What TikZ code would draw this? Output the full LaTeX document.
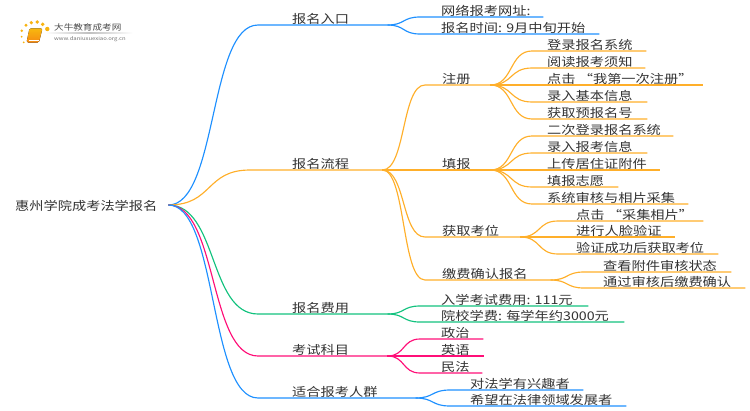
\documentclass[tikz,border=0pt]{standalone}
\usepackage{fontspec}
\usepackage{xcolor}
\usetikzlibrary{calc}
\setmainfont{Noto Sans CJK SC}[FakeStretch=1.185]

\definecolor{mapblue}{HTML}{1E90FF}
\definecolor{maporange}{HTML}{FFAF2A}
\definecolor{mapgreen}{HTML}{12C27E}
\definecolor{mappink}{HTML}{FF0F78}
\definecolor{maptext}{HTML}{333333}
\definecolor{logoorange}{HTML}{F59A14}

% colour, start point, node name, line start, text start, line end, line y, text
\newcommand{\branch}[8]{
\pgfmathsetmacro{\linelen}{#6-#4}
\pgfmathsetmacro{\textgap}{#5-#4}
\node [topic,anchor=south west] (#3) at (#4,#7) {\makebox[\linelen pt][l]{\hspace*{\textgap pt}#8}};
\draw [link,#1] let \p1=(#2), \p2=(#3.south west), \n1={0.55*(\x2-\x1)} in
  (\p1) .. controls +(\n1,0) and +(-\n1,0) .. (\p2) -- (#3.south east);
}

\begin{document}
\begin{tikzpicture}[x=1pt,y=-1pt,
  topic/.style={inner sep=0pt,text height=10pt,text depth=1.2pt,text=maptext,font=\fontsize{12}{14}\selectfont},
  link/.style={line width=1.15pt},
  logodot/.style={fill=logoorange!75!yellow,draw=none}]
\useasboundingbox (0,0) rectangle (750,410);

% logo
\foreach \dotx/\doty/\dotr in {21.7/30.7/1.4,26/25.3/1.6,31.3/22.7/1.8,37.3/22/1.9,42.7/24.3/1.9,47.3/29/2.2,21.7/36.7/1,23.7/42.3/1}
  \fill [logodot] (\dotx,\doty) circle (\dotr);
\shade [left color=white,right color=white,middle color=black!25] (45,32.8) rectangle (133,33.6);
\fill [rounded corners=1.5pt,top color=logoorange!70!yellow,bottom color=logoorange!90!red]
  (29.5,28.3) -- (42.5,28.3) -- (39,42.5) -- (26.5,42.5) -- cycle;
\draw [white,line width=0.5pt] (28.5,39.8) -- (39.3,39.8);
\node [inner sep=0pt,text=black!70,font=\fontsize{8.1}{10}\selectfont,anchor=west] (logotitle) at (54,27) {大牛教育成考网};
\node [inner sep=0pt,text=black!55,font=\fontsize{5}{6}\selectfont,anchor=west] (logourl) at (54,39) {www.daniuxuexiao.org.cn};

% centre
\node [topic,anchor=west,text height=12pt,text depth=2pt] (root) at (15,205) {\makebox[153pt][l]{惠州学院成考法学报名}};

% first level
\branch{mapblue}{root.east}{entry}{258}{292}{387}{25}{报名入口}
\branch{maporange}{root.east}{process}{250}{292}{382}{170}{报名流程}
\branch{mapgreen}{root.east}{fee}{258}{292}{387}{314}{报名费用}
\branch{mappink}{root.east}{subject}{258}{292}{387}{356}{考试科目}
\branch{mapblue}{root.east}{people}{258}{292}{415}{398}{适合报考人群}

% second level
\branch{mapblue}{entry.south east}{website}{420}{441}{543}{17}{网络报考网址:}
\branch{mapblue}{entry.south east}{regtime}{420}{441}{599}{34}{报名时间: 9月中旬开始}
\branch{maporange}{process.south east}{signup}{425}{442}{490}{85}{注册}
\branch{maporange}{process.south east}{fillin}{425}{442}{490}{170}{填报}
\branch{maporange}{process.south east}{seat}{425}{442}{520}{237}{获取考位}
\branch{maporange}{process.south east}{payment}{425}{442}{550}{280}{缴费确认报名}
\branch{mapgreen}{fee.south east}{examfee}{420}{441}{588}{306}{入学考试费用: 111元}
\branch{mapgreen}{fee.south east}{tuition}{420}{441}{624}{322}{院校学费: 每学年约3000元}
\branch{mappink}{subject.south east}{politics}{420}{441}{483}{339}{政治}
\branch{mappink}{subject.south east}{english}{420}{441}{484}{356}{英语}
\branch{mappink}{subject.south east}{civillaw}{420}{441}{482}{373}{民法}
\branch{mapblue}{people.south east}{fans}{450}{470}{583}{390}{对法学有兴趣者}
\branch{mapblue}{people.south east}{career}{450}{470}{626}{406}{希望在法律领域发展者}

% third level
\foreach \leaf/\leafend/\leafy/\leaftext in {su1/646/51/登录报名系统,su2/645/68/阅读报考须知,su3/703/85/点击 “我第一次注册”,su4/647/102/录入基本信息,su5/647/119/获取预报名号}
  {\branch{maporange}{signup.south east}{\leaf}{532}{547}{\leafend}{\leafy}{\leaftext}}
\foreach \leaf/\leafend/\leafy/\leaftext in {fi1/673/136/二次登录报名系统,fi2/647/153/录入报考信息,fi3/660/170/上传居住证附件,fi4/618/187/填报志愿,fi5/688/204/系统审核与相片采集}
  {\branch{maporange}{fillin.south east}{\leaf}{532}{547}{\leafend}{\leafy}{\leaftext}}
\foreach \leaf/\leafend/\leafy/\leaftext in {se1/703/221/点击 “采集相片”,se2/675/237/进行人脸验证,se3/718/254/验证成功后获取考位}
  {\branch{maporange}{seat.south east}{\leaf}{558}{576}{\leafend}{\leafy}{\leaftext}}
\foreach \leaf/\leafend/\leafy/\leaftext in {pa1/731/272/查看附件审核状态,pa2/745/288/通过审核后缴费确认}
  {\branch{maporange}{payment.south east}{\leaf}{584}{603}{\leafend}{\leafy}{\leaftext}}
\end{tikzpicture}
\end{document}
